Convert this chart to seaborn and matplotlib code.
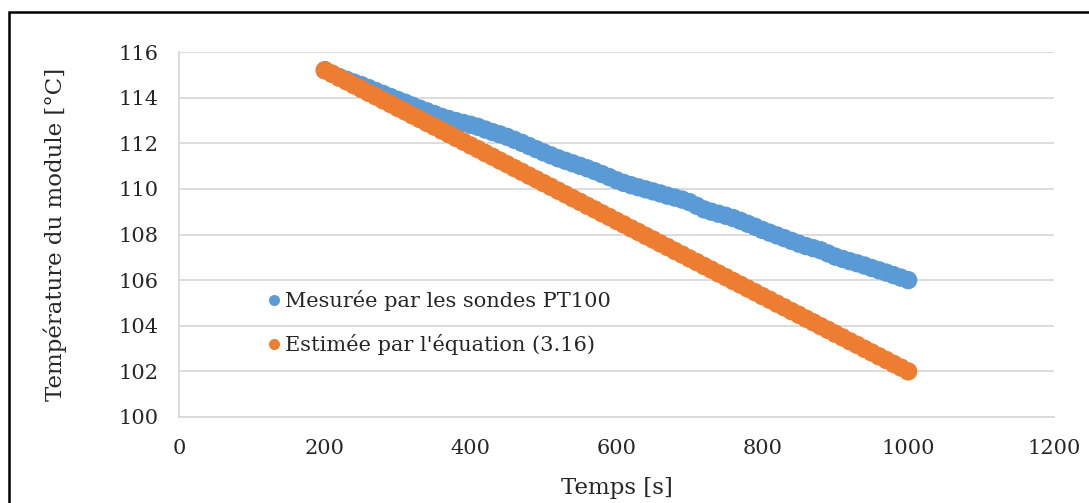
import pandas as pd
import numpy as np
import matplotlib.pyplot as plt
import seaborn as sns
from matplotlib.patches import Rectangle

sns.set_style('white')
plt.rcParams['font.family'] = ['DejaVu Serif']

# time axis, every 10 s from 200 to 1000
temps = list(range(200, 1001, 10))

mesure = [115.20, 115.05, 114.90, 114.78, 114.66, 114.55, 114.42, 114.29, 114.16, 114.03,
          113.90, 113.78, 113.65, 113.52, 113.40, 113.28, 113.16, 113.06, 112.97, 112.89,
          112.81, 112.72, 112.60, 112.49, 112.39, 112.28, 112.15, 112.02, 111.88, 111.74,
          111.60, 111.47, 111.34, 111.23, 111.12, 111.01, 110.90, 110.78, 110.65, 110.52,
          110.38, 110.26, 110.16, 110.07, 109.98, 109.89, 109.80, 109.70, 109.62, 109.53,
          109.42, 109.26, 109.10, 109.00, 108.91, 108.82, 108.72, 108.60, 108.47, 108.34,
          108.20, 108.08, 107.96, 107.84, 107.72, 107.60, 107.49, 107.40, 107.31, 107.17,
          107.03, 106.93, 106.83, 106.74, 106.64, 106.53, 106.43, 106.33, 106.22, 106.11,
          106.00]

# estimated by equation (3.16)
estime = [115.20, 115.04, 114.87, 114.71, 114.54, 114.38, 114.21, 114.05, 113.88, 113.72,
          113.55, 113.39, 113.22, 113.06, 112.89, 112.73, 112.56, 112.40, 112.23, 112.07,
          111.90, 111.74, 111.57, 111.41, 111.24, 111.08, 110.91, 110.75, 110.58, 110.42,
          110.25, 110.09, 109.92, 109.76, 109.59, 109.43, 109.26, 109.10, 108.93, 108.77,
          108.60, 108.44, 108.27, 108.11, 107.94, 107.78, 107.61, 107.45, 107.28, 107.12,
          106.95, 106.79, 106.62, 106.46, 106.29, 106.13, 105.96, 105.80, 105.63, 105.47,
          105.30, 105.14, 104.97, 104.81, 104.64, 104.48, 104.31, 104.15, 103.98, 103.82,
          103.65, 103.49, 103.32, 103.16, 102.99, 102.83, 102.66, 102.50, 102.33, 102.17,
          102.00]

lab_mes = 'Mesurée par les sondes PT100'
lab_est = "Estimée par l'équation (3.16)"

df = pd.DataFrame({
    'Temps': temps + temps,
    'T': mesure + estime,
    'serie': [lab_mes] * len(temps) + [lab_est] * len(temps),
})

fig = plt.figure(figsize=(10.89, 5.03), dpi=100)
ax = fig.add_axes([179 / 1089, 1 - 417 / 503, 875 / 1089, 365 / 503])

sns.scatterplot(data=df, x='Temps', y='T', hue='serie',
                palette={lab_mes: '#5b9bd5', lab_est: '#ed7d31'},
                s=175, linewidth=0, alpha=1, ax=ax, zorder=3)

ax.set_xlim(0, 1200)
ax.set_ylim(100, 116)
ax.set_xticks(range(0, 1201, 200))
ax.set_yticks(range(100, 117, 2))
ax.grid(axis='y', color='#d9d9d9', linewidth=1.3)
ax.set_axisbelow(True)
for s in ['top', 'right']:
    ax.spines[s].set_visible(False)
ax.spines['left'].set_color('#d9d9d9')
ax.spines['bottom'].set_color('#d9d9d9')
ax.spines['left'].set_linewidth(1.3)
ax.spines['bottom'].set_linewidth(1.3)
ax.tick_params(axis='x', direction='inout', length=9, width=1.3, color='#d9d9d9',
               pad=11, labelsize=15)
ax.tick_params(axis='y', length=0, pad=15, labelsize=15)

ax.set_xlabel('Temps [s]', fontsize=16.5)
ax.set_ylabel('Température du module [°C]', fontsize=16.5)
ax.xaxis.set_label_coords(0.5, -0.165)
ax.yaxis.set_label_coords(-0.128, 0.5)

leg = ax.legend(loc='upper left', bbox_to_anchor=(0.099, 0.348), frameon=False,
                fontsize=15, markerscale=0.6, handlelength=0.8, handletextpad=0.15,
                labelspacing=1.1, borderaxespad=0, borderpad=0)

# outer chart frame
fig.patches.append(Rectangle((9 / 1089, -0.05), 1.2, 1 - 12 / 503 + 0.05,
                             transform=fig.transFigure, fill=False,
                             edgecolor='black', linewidth=1.8))

plt.savefig('out.png', dpi=100)
plt.close()
